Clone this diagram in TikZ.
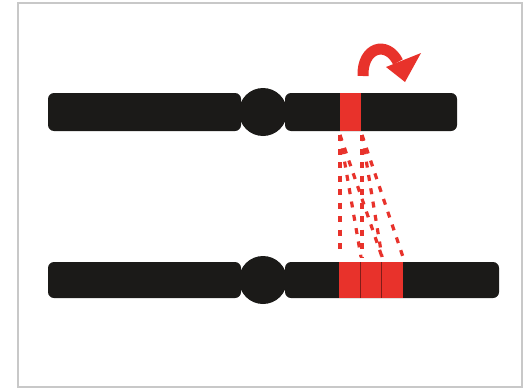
\documentclass[tikz,border=0pt]{standalone}
\begin{document}
\begin{tikzpicture}[x=1pt,y=-1pt,
  chromo/.style={fill=chromoblack, rounded corners=6pt},
  cent/.style={fill=chromoblack},
  band/.style={fill=bandred},
  bandline/.style={draw=bandred!55!black, line width=0.8pt},
  copyline/.style={draw=bandred, line width=3.2pt, dash pattern=on 6pt off 7.5pt},
  frame/.style={draw=framegrey, line width=1.6pt}]
\definecolor{chromoblack}{HTML}{1B1A18}
\definecolor{bandred}{HTML}{E8322B}
\definecolor{framegrey}{HTML}{C8C8C8}
\useasboundingbox (0,0) rectangle (524,388);
\fill[white] (0,0) rectangle (524,388);
\draw[frame] (18,3) rectangle (522,387);

% upper chromosome
\fill[chromo] (48,93) rectangle (241,131);
\fill[chromo] (285,93) rectangle (457,131);
\fill[cent] (263,112) circle (24);
\fill[band] (340,93) rectangle (361,131);

% lower chromosome
\fill[chromo] (48,262) rectangle (241,298);
\fill[chromo] (285,262) rectangle (499,298);
\fill[cent] (263,280) circle (24);
\fill[band] (339,262) rectangle (403,298);
\draw[bandline] (360,262) -- (360,298);
\draw[bandline] (381,262) -- (381,298);

% end points of the copy lines
\coordinate (tl) at (340,135);
\coordinate (tr) at (362,135);
\coordinate (b0) at (340,252);
\coordinate (b1) at (361,257);
\coordinate (b2) at (382,257);
\coordinate (b3) at (403,257);
\coordinate (b1r) at (362,257);

\draw[copyline] (tl) -- (b0);
\draw[copyline] (tl) -- (b1);
\draw[copyline] (tl) -- (b2);
\draw[copyline] (tr) -- (b1r);
\draw[copyline] (tr) -- (b2);
\draw[copyline] (tr) -- (b3);

% curved arrow above the band
\draw[draw=bandred, line width=11pt] (363,76) .. controls (362,47) and (387,40) .. (398,62);
\fill[bandred] (386,67) -- (421,53) -- (405,82) -- cycle;
\end{tikzpicture}
\end{document}
